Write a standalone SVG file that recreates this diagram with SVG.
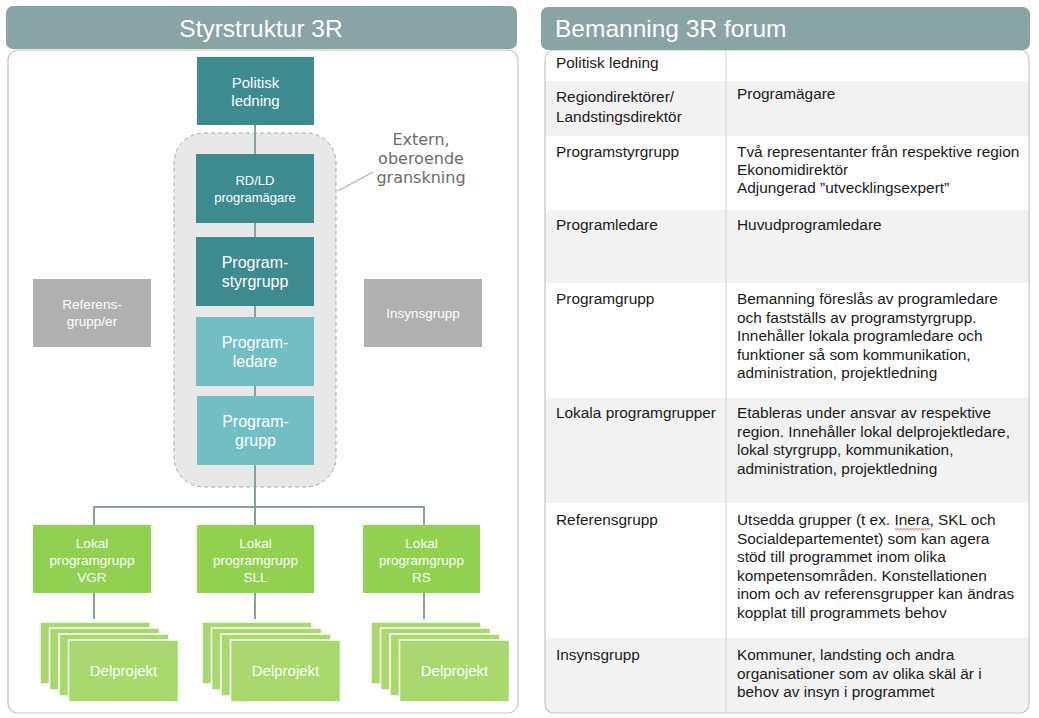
<svg xmlns="http://www.w3.org/2000/svg" width="1039" height="718" viewBox="0 0 1039 718">
<style>
.hdr{fill:#8aa4a5;}
.panel{fill:#ffffff;stroke:#c3c3c3;stroke-width:1.2;}
.dark{fill:#3d8a8f;}
.light{fill:#72bec3;}
.grey{fill:#b0b0b0;}
.green{fill:#92d050;}
.card{fill:#a9d86e;stroke:#ffffff;stroke-width:1.5;}
.nt{font-family:"Liberation Sans",Arial,sans-serif;fill:#ffffff;text-anchor:middle;}
.conn{stroke:#8c9fa3;stroke-width:2;fill:none;}
.tt{font-family:"Liberation Sans",Arial,sans-serif;font-size:15.4px;fill:#1a1a1a;}
.row{fill:#f2f2f2;}
</style>
<defs>
<clipPath id="rp"><rect x="545" y="50" width="484" height="663" rx="9"/></clipPath>
</defs>

<!-- Left panel -->
<g id="left-panel">
<rect class="panel" x="8" y="50" width="510" height="663" rx="10"/>
<rect class="hdr" x="6" y="6" width="511" height="43" rx="7"/>
<text x="261" y="37" font-family="'Liberation Sans',Arial,sans-serif" font-size="24.5" fill="#ffffff" text-anchor="middle">Styrstruktur 3R</text>
</g>

<g id="extern-box">
<rect x="174" y="133" width="162" height="354" rx="30" fill="#e8e8e8" stroke="#a8a8a8" stroke-width="1" stroke-dasharray="4,3"/>
<line x1="338" y1="191" x2="373" y2="172" stroke="#b0b0b0" stroke-width="1.2"/>
<text font-family="'DejaVu Sans',Verdana,sans-serif" font-size="16" fill="#6b6b6b" text-anchor="middle"><tspan x="421" y="145">Extern,</tspan><tspan x="421" y="164">oberoende</tspan><tspan x="421" y="183">granskning</tspan></text>
</g>

<g id="connectors">
<line class="conn" x1="255" y1="125" x2="255" y2="525"/>
<polyline class="conn" points="94,525 94,507 424,507 424,525"/>
<line class="conn" x1="94" y1="593" x2="94" y2="619"/>
<line class="conn" x1="255" y1="593" x2="255" y2="619"/>
<line class="conn" x1="424" y1="593" x2="424" y2="619"/>
</g>

<g id="politisk-ledning">
<rect class="dark" x="197" y="57" width="117" height="68"/>
<text class="nt" font-size="15"><tspan x="255.5" y="88">Politisk</tspan><tspan x="255.5" y="106">ledning</tspan></text>
</g>
<g id="rdld">
<rect class="dark" x="196" y="154" width="118" height="69"/>
<text class="nt" font-size="13"><tspan x="255" y="185">RD/LD</tspan><tspan x="255" y="202">programägare</tspan></text>
</g>
<g id="programstyrgrupp">
<rect class="dark" x="196" y="237" width="118" height="69"/>
<text class="nt" font-size="16"><tspan x="255" y="268">Program-</tspan><tspan x="255" y="287">styrgrupp</tspan></text>
</g>
<g id="programledare">
<rect class="light" x="196" y="317" width="118" height="69"/>
<text class="nt" font-size="16"><tspan x="255" y="348">Program-</tspan><tspan x="255" y="367">ledare</tspan></text>
</g>
<g id="programgrupp">
<rect class="light" x="197" y="396" width="117" height="69"/>
<text class="nt" font-size="16"><tspan x="255.5" y="427">Program-</tspan><tspan x="255.5" y="446">grupp</tspan></text>
</g>
<g id="referensgrupp">
<rect class="grey" x="33" y="279" width="118" height="68"/>
<text class="nt" font-size="13.5"><tspan x="92" y="309">Referens-</tspan><tspan x="92" y="326">grupp/er</tspan></text>
</g>
<g id="insynsgrupp">
<rect class="grey" x="364" y="279" width="118" height="68"/>
<text class="nt" font-size="13.5" x="423" y="318">Insynsgrupp</text>
</g>

<g id="lokal-vgr">
<rect class="green" x="33" y="525" width="118" height="68"/>
<text class="nt" font-size="13.5"><tspan x="92" y="548">Lokal</tspan><tspan x="92" y="565">programgrupp</tspan><tspan x="92" y="582">VGR</tspan></text>
</g>
<g id="lokal-sll">
<rect class="green" x="197" y="525" width="117" height="68"/>
<text class="nt" font-size="13.5"><tspan x="255.5" y="548">Lokal</tspan><tspan x="255.5" y="565">programgrupp</tspan><tspan x="255.5" y="582">SLL</tspan></text>
</g>
<g id="lokal-rs">
<rect class="green" x="363" y="525" width="117" height="68"/>
<text class="nt" font-size="13.5"><tspan x="421.5" y="548">Lokal</tspan><tspan x="421.5" y="565">programgrupp</tspan><tspan x="421.5" y="582">RS</tspan></text>
</g>

<g id="delprojekt-vgr">
<rect class="card" x="40" y="622" width="110" height="62"/>
<rect class="card" x="49.5" y="628" width="110" height="62"/>
<rect class="card" x="59" y="634" width="110" height="62"/>
<rect class="card" x="68.5" y="640" width="110" height="62"/>
<text class="nt" font-size="15" x="123.5" y="676">Delprojekt</text>
</g>
<g id="delprojekt-sll">
<rect class="card" x="202" y="622" width="110" height="62"/>
<rect class="card" x="211.5" y="628" width="110" height="62"/>
<rect class="card" x="221" y="634" width="110" height="62"/>
<rect class="card" x="230.5" y="640" width="110" height="62"/>
<text class="nt" font-size="15" x="285.5" y="676">Delprojekt</text>
</g>
<g id="delprojekt-rs">
<rect class="card" x="371" y="622" width="110" height="62"/>
<rect class="card" x="380.5" y="628" width="110" height="62"/>
<rect class="card" x="390" y="634" width="110" height="62"/>
<rect class="card" x="399.5" y="640" width="110" height="62"/>
<text class="nt" font-size="15" x="454.5" y="676">Delprojekt</text>
</g>

<!-- Right panel -->
<g id="right-panel">
<rect x="545" y="50" width="484" height="663" rx="9" fill="#ffffff"/>
<g clip-path="url(#rp)">
<rect class="row" x="545" y="81" width="484" height="55"/>
<rect class="row" x="545" y="210" width="484" height="73"/>
<rect class="row" x="545" y="398" width="484" height="105"/>
<rect class="row" x="545" y="638" width="484" height="75"/>
</g>
<line x1="726" y1="50" x2="726" y2="713" stroke="#d9d9d9" stroke-width="1.2"/>
<rect x="545" y="50" width="484" height="663" rx="9" fill="none" stroke="#c3c3c3" stroke-width="1.2"/>
<rect class="hdr" x="541" y="7" width="489" height="43" rx="7"/>
<text x="555" y="37" font-family="'Liberation Sans',Arial,sans-serif" font-size="24.5" fill="#ffffff">Bemanning 3R forum</text>

<text class="tt" x="556" y="68">Politisk ledning</text>

<text class="tt"><tspan x="556" y="102">Regiondirektörer/</tspan><tspan x="556" y="122">Landstingsdirektör</tspan></text>
<text class="tt" x="737" y="99" font-size="13.6">Programägare</text>

<text class="tt" x="556" y="157">Programstyrgrupp</text>
<text class="tt"><tspan x="737" y="157">Två representanter från respektive region</tspan><tspan x="737" y="175">Ekonomidirektör</tspan><tspan x="737" y="193">Adjungerad ”utvecklingsexpert”</tspan></text>

<text class="tt" x="556" y="230">Programledare</text>
<text class="tt" x="737" y="230">Huvudprogramledare</text>

<text class="tt" x="556" y="304">Programgrupp</text>
<text class="tt"><tspan x="737" y="304">Bemanning föreslås av programledare</tspan><tspan x="737" y="322.5">och fastställs av programstyrgrupp.</tspan><tspan x="737" y="341">Innehåller lokala programledare och</tspan><tspan x="737" y="359.5">funktioner så som kommunikation,</tspan><tspan x="737" y="378">administration, projektledning</tspan></text>

<text class="tt" x="556" y="418">Lokala programgrupper</text>
<text class="tt"><tspan x="737" y="418">Etableras under ansvar av respektive</tspan><tspan x="737" y="436.5">region. Innehåller lokal delprojektledare,</tspan><tspan x="737" y="455">lokal styrgrupp, kommunikation,</tspan><tspan x="737" y="473.5">administration, projektledning</tspan></text>

<text class="tt" x="556" y="525">Referensgrupp</text>
<text class="tt"><tspan x="737" y="525">Utsedda grupper (t ex. Inera, SKL och</tspan><tspan x="737" y="543.5">Socialdepartementet) som kan agera</tspan><tspan x="737" y="562">stöd till programmet inom olika</tspan><tspan x="737" y="580.5">kompetensområden. Konstellationen</tspan><tspan x="737" y="599">inom och av referensgrupper kan ändras</tspan><tspan x="737" y="617.5">kopplat till programmets behov</tspan></text>
<path d="M895,528.5 l1.5,1.2 l1.5,-1.2 l1.5,1.2 l1.5,-1.2 l1.5,1.2 l1.5,-1.2 l1.5,1.2 l1.5,-1.2 l1.5,1.2 l1.5,-1.2 l1.5,1.2 l1.5,-1.2 l1.5,1.2 l1.5,-1.2 l1.5,1.2 l1.5,-1.2 l1.5,1.2 l1.5,-1.2 l1.5,1.2 l1.5,-1.2 l1.5,1.2 l1.5,-1.2 l1.5,1.2 l1.5,-1.2" fill="none" stroke="#e03030" stroke-width="0.8"/>

<text class="tt" x="556" y="660">Insynsgrupp</text>
<text class="tt"><tspan x="737" y="660">Kommuner, landsting och andra</tspan><tspan x="737" y="678.5">organisationer som av olika skäl är i</tspan><tspan x="737" y="697">behov av insyn i programmet</tspan></text>
</g>
</svg>
